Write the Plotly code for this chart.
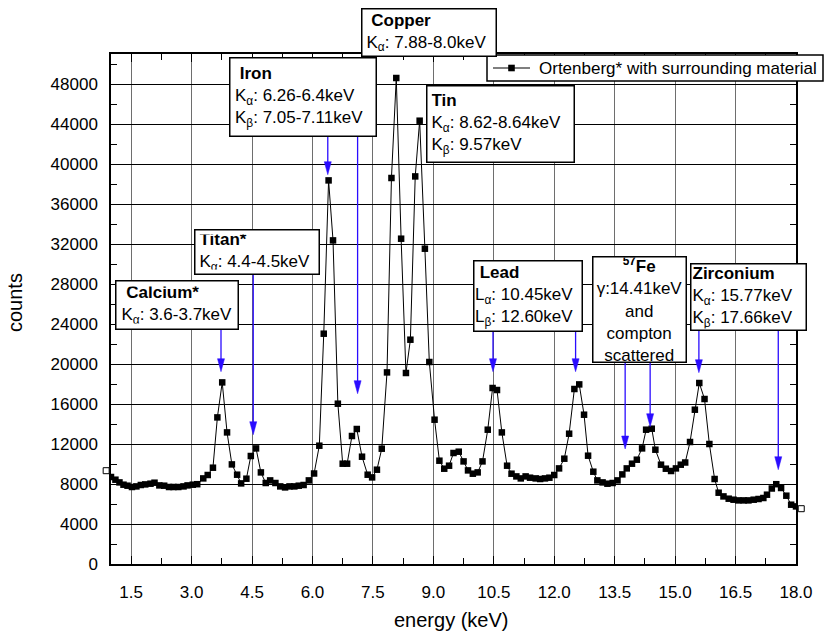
import plotly.graph_objects as go

# ---- spectrum: Ortenberg* with surrounding material ----
energy = [0.88, 1.00, 1.11, 1.21, 1.31, 1.41, 1.52, 1.63, 1.74, 1.85,
          1.98, 2.08, 2.20, 2.32, 2.44, 2.55, 2.67, 2.80, 2.90, 3.03,
          3.14, 3.29, 3.40, 3.53, 3.64, 3.76, 3.88, 4.00, 4.13, 4.23,
          4.36, 4.47, 4.60, 4.72, 4.84, 4.95, 5.08, 5.20, 5.32, 5.43,
          5.55, 5.66, 5.78, 5.91, 6.04, 6.17, 6.28, 6.40, 6.51, 6.63,
          6.75, 6.86, 6.98, 7.10, 7.23, 7.37, 7.48, 7.60, 7.72, 7.85,
          7.96, 8.08, 8.20, 8.32, 8.43, 8.55, 8.66, 8.79, 8.90, 9.03,
          9.15, 9.27, 9.39, 9.50, 9.63, 9.75, 9.86, 9.98, 10.10, 10.22,
          10.35, 10.47, 10.58, 10.70, 10.83, 10.94, 11.06, 11.17, 11.29, 11.40,
          11.54, 11.65, 11.77, 11.88, 12.00, 12.12, 12.25, 12.37, 12.50, 12.62,
          12.74, 12.84, 12.97, 13.07, 13.20, 13.32, 13.45, 13.57, 13.69, 13.80,
          13.93, 14.05, 14.18, 14.28, 14.42, 14.51, 14.65, 14.77, 14.90, 15.02,
          15.14, 15.25, 15.37, 15.49, 15.60, 15.73, 15.85, 15.98, 16.08, 16.20,
          16.33, 16.45, 16.57, 16.70, 16.82, 16.95, 17.07, 17.19, 17.28, 17.40,
          17.51, 17.63, 17.76, 17.88, 18.00, 18.13]
counts = [9330, 8700, 8430, 8160, 7930, 7830, 7700, 7760, 7900, 7960,
          8030, 8130, 7860, 7830, 7700, 7700, 7700, 7760, 7860, 7930,
          7980, 8560, 8900, 9630, 14660, 18160, 13160, 9960, 8930, 8060,
          8530, 10800, 11560, 9160, 8100, 8360, 8100, 7760, 7660, 7760,
          7760, 7830, 7900, 8360, 9050, 11830, 23030, 38360, 32360, 16030,
          10030, 10030, 12800, 13500, 10730, 8930, 8660, 9430, 11530, 19160,
          38600, 48600, 32530, 19100, 22430, 38760, 44330, 31530, 20200, 14430,
          10330, 9530, 9830, 11100, 11230, 10260, 9360, 9030, 9160, 10260,
          13430, 17600, 17400, 13160, 9830, 9030, 8760, 8560, 8760, 8630,
          8560, 8500, 8560, 8630, 8900, 9560, 10530, 13030, 17500, 17960,
          14930, 10830, 9230, 8360, 8160, 8030, 8100, 8360, 8960, 9560,
          10030, 10430, 11560, 13430, 13530, 11430, 9930, 9530, 9300, 9560,
          9930, 10150, 12200, 15430, 18100, 16500, 12000, 8500, 7130, 6760,
          6530, 6430, 6360, 6360, 6360, 6430, 6500, 6600, 6930, 7550,
          7980, 7600, 6830, 5930, 5760, 5530]
series_name = "Ortenberg* with surrounding material"

x_ticks = [1.5, 3.0, 4.5, 6.0, 7.5, 9.0, 10.5, 12.0, 13.5, 15.0, 16.5, 18.0]
y_ticks = [0, 4000, 8000, 12000, 16000, 20000, 24000, 28000, 32000,
           36000, 40000, 44000, 48000]
x_range = [1.0, 18.0]
y_range = [0, 51000]

# ---- element line markers (energy of arrow, tail and tip in counts) ----
arrow_energy = [3.73, 4.53, 6.38, 7.12, 10.48, 12.53, 13.76, 14.38, 15.59, 17.56]
arrow_tail = [23430, 28930, 42730, 42730, 23230, 23230, 20130, 20130, 23330, 23330]
arrow_tip = [19230, 12930, 38930, 17030, 19230, 19230, 11500, 13730, 19130, 9430]

# ---- label boxes ----
NB = "\u00a0"
label_text = [
    f"<b>{NB}Copper</b><br>K<sub>α</sub>: 7.88-8.0keV",
    f"<b>{NB}Iron</b><br>K<sub>α</sub>: 6.26-6.4keV<br>K<sub>β</sub>: 7.05-7.11keV",
    "<b>Tin</b><br>K<sub>α</sub>: 8.62-8.64keV<br>K<sub>β</sub>: 9.57keV",
    "<b>Titan*</b><br>K<sub>α</sub>: 4.4-4.5keV",
    f"<b>{NB}Calcium*</b><br>K<sub>α</sub>: 3.6-3.7keV",
    f"<b>{NB}Lead</b><br>L<sub>α</sub>: 10.45keV<br>L<sub>β</sub>: 12.60keV",
    "<b><sup>57</sup>Fe</b><br>γ:14.41keV<br>and<br>compton<br>scattered",
    "<b>Zirconium</b><br>K<sub>α</sub>: 15.77keV<br>K<sub>β</sub>: 17.66keV",
]

FONT = "Liberation Sans, Arial, Helvetica, sans-serif"
BLUE = "#2a0cff"

# figure geometry (px): outer margins, and the axis frame inside them
W, H = 827, 632
ML, MR, MT, MB = 100, 20, 54, 68
AX_L, AX_R = 111, 796            # left / right edge of the axis frame
PW, PH = W - ML - MR, H - MT - MB


def px(xp):
    return (xp - ML) / PW


def py(yp):
    return (H - MB - yp) / PH


# a second, invisible x axis spanning the full margin box with the same scale,
# so the open end markers just outside the frame are still drawn
kev_per_px = (x_range[1] - x_range[0]) / (AX_R - AX_L)
x2_range = [x_range[0] - (AX_L - ML) * kev_per_px,
            x_range[1] + (W - MR - AX_R) * kev_per_px]

# box layout: top-left corner in figure pixels, outer size in px, inner padding, alignment
box_layout = [
    (361, 8, 136, 49, 4.0, "left"),
    (229, 57, 148, 80, 4.5, "left"),
    (426, 85, 149, 78, 4.0, "left"),
    (194, 229, 126, 46, 4.0, "left"),
    (115, 280, 124, 50, 5.0, "left"),
    (473, 260, 110, 72, 0.5, "left"),
    (592, 256, 95, 107, 0.0, "center"),
    (690, 263, 117, 68, 1.0, "left"),
]

fig = go.Figure()

fig.add_trace(go.Scatter(
    x=energy, y=counts, mode="lines+markers", name=series_name,
    line=dict(color="black", width=1),
    marker=dict(symbol="square", size=6.5, color="black"),
    showlegend=False,
))
# open end markers
fig.add_trace(go.Scatter(
    x=[energy[0], energy[-1]], y=[counts[0], counts[-1]], mode="markers",
    xaxis="x2", yaxis="y2",
    marker=dict(symbol="square", size=6, color="white",
                line=dict(color="black", width=1)),
    showlegend=False,
))

shapes = []
head_half = 0.087   # keV
head_len = 1300     # counts
for xe, yt, yp in zip(arrow_energy, arrow_tail, arrow_tip):
    shapes.append(dict(type="line", xref="x", yref="y", x0=xe, x1=xe,
                       y0=yt, y1=yp + head_len * 0.6,
                       line=dict(color=BLUE, width=1.3)))
    shapes.append(dict(type="path", xref="x", yref="y",
                       path=f"M{xe - head_half},{yp + head_len} L{xe + head_half},{yp + head_len} L{xe},{yp} Z",
                       fillcolor=BLUE, line=dict(color=BLUE, width=0.5)))

# legend box drawn by hand so it can hang over the right edge
leg_y = py(68)
shapes.append(dict(type="rect", xref="paper", yref="paper",
                   x0=px(487), x1=px(823), y0=py(81), y1=py(55),
                   fillcolor="white", line=dict(color="black", width=1.5),
                   layer="above"))
shapes.append(dict(type="line", xref="paper", yref="paper",
                   x0=px(493), x1=px(530), y0=leg_y, y1=leg_y,
                   line=dict(color="black", width=1.2), layer="above"))
shapes.append(dict(type="rect", xref="paper", yref="paper",
                   xsizemode="pixel", ysizemode="pixel",
                   xanchor=px(511.5), yanchor=leg_y,
                   x0=-3.3, x1=3.3, y0=-3.3, y1=3.3,
                   fillcolor="black", line=dict(color="black", width=0),
                   layer="above"))

annotations = []
BW = 1.5
for txt, (bx, by, bw, bh, pad, al) in zip(label_text, box_layout):
    full = BW + pad
    annotations.append(dict(
        text=txt, xref="paper", yref="paper", x=px(bx), y=py(by),
        xanchor="left", yanchor="top", showarrow=False,
        width=bw - 2 * full, height=bh - 2 * full,
        align=al, valign="middle",
        bgcolor="white", bordercolor="black", borderwidth=BW, borderpad=pad,
        font=dict(family=FONT, size=17, color="black"),
    ))

annotations.append(dict(
    text=series_name, xref="paper", yref="paper", x=px(537), y=leg_y,
    xanchor="left", yanchor="middle", showarrow=False,
    font=dict(family=FONT, size=17, color="black"),
))
# axis titles
annotations.append(dict(
    text="energy (keV)", xref="paper", yref="paper", x=px(451), y=py(620),
    xanchor="center", yanchor="middle", showarrow=False,
    font=dict(family=FONT, size=20, color="black"),
))
annotations.append(dict(
    text="counts", xref="paper", yref="paper", x=px(15), y=py(303),
    xanchor="center", yanchor="middle", showarrow=False, textangle=-90,
    font=dict(family=FONT, size=20, color="black"),
))

fig.update_layout(
    width=W, height=H,
    margin=dict(l=ML, r=MR, t=MT, b=MB, autoexpand=False),
    paper_bgcolor="white", plot_bgcolor="rgba(0,0,0,0)",
    font=dict(family=FONT, size=17, color="black"),
    shapes=shapes, annotations=annotations,
    showlegend=False,
    xaxis=dict(
        domain=[px(AX_L), px(AX_R)],
        range=x_range, tickvals=x_ticks, tickformat=".1f",
        showgrid=True, gridcolor="#6e6e6e", gridwidth=1,
        showline=True, linecolor="black", linewidth=1.5, mirror="allticks",
        ticks="inside", ticklen=8, tickcolor="black",
        minor=dict(dtick=0.75, tick0=0.75, ticks="inside", ticklen=6,
                   tickcolor="black", showgrid=False),
        ticklabelstandoff=12, zeroline=False, automargin=False,
    ),
    yaxis=dict(
        range=y_range, tickvals=y_ticks, tickformat="d",
        showgrid=True, gridcolor="black", gridwidth=1,
        showline=True, linecolor="black", linewidth=1.5, mirror="allticks",
        ticks="inside", ticklen=8, tickcolor="black",
        minor=dict(dtick=2000, ticks="inside", ticklen=6, tickcolor="black",
                   showgrid=False),
        ticklabelstandoff=8, zeroline=False, automargin=False,
    ),
    xaxis2=dict(domain=[0, 1], range=x2_range, anchor="y2", visible=False,
                showgrid=False, zeroline=False),
    yaxis2=dict(domain=[0, 1], range=y_range, anchor="x2", visible=False,
                showgrid=False, zeroline=False),
)

fig.write_html("out.html")
